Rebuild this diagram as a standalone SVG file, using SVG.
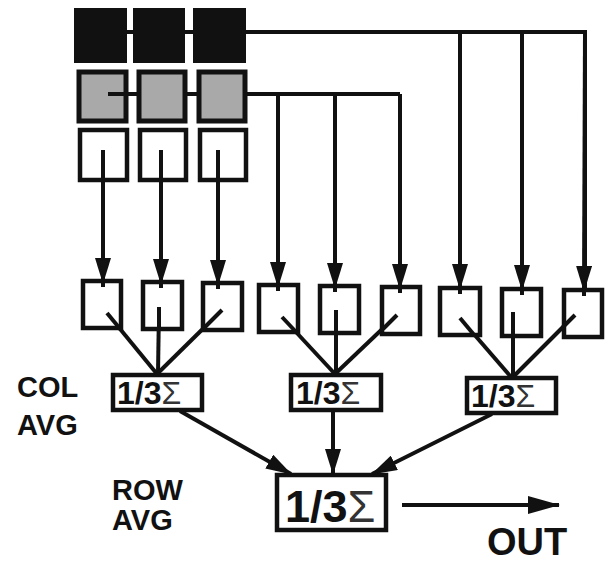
<svg xmlns="http://www.w3.org/2000/svg" width="608" height="564" viewBox="0 0 608 564">
<defs>
<marker id="ah" markerUnits="userSpaceOnUse" markerWidth="26" markerHeight="16" viewBox="0 0 26 16" refX="25" refY="8" orient="auto">
<path d="M0,0 L26,8 L0,16 z" fill="#111"/>
</marker>
<marker id="ahl" markerUnits="userSpaceOnUse" markerWidth="32" markerHeight="18" viewBox="0 0 32 18" refX="31" refY="9" orient="auto">
<path d="M0,0 L32,9 L0,18 z" fill="#111"/>
</marker>
</defs>
<style>
.blk{fill:#111;stroke:#111;stroke-width:2}
.gry{fill:#a9a9a9;stroke:#111;stroke-width:5}
.box{fill:#fff;stroke:#111;stroke-width:4.5}
.ln{fill:none;stroke:#111;stroke-width:4;stroke-linecap:butt;stroke-linejoin:miter}
.ar{fill:none;stroke:#111;stroke-width:4;marker-end:url(#ah)}
.arl{fill:none;stroke:#111;stroke-width:4;marker-end:url(#ahl)}
.lbl{font-family:"Liberation Sans",Arial,Helvetica,sans-serif;font-weight:bold;fill:#111}
.sig{font-family:"Liberation Sans",Arial,Helvetica,sans-serif;font-weight:normal;fill:#333}
</style>
<rect width="608" height="564" fill="#fff"/>

<g id="connectors">
<path class="ln" d="M126,32 H134 M184,32 H194 M245,32 H585 V288"/>
<line class="ar" x1="460" y1="32" x2="460" y2="289"/>
<line class="ar" x1="522" y1="32" x2="522" y2="290"/>
<line class="ar" x1="585" y1="32" x2="584" y2="291"/>
<path class="ln" d="M108,94 H400"/>
<line class="ar" x1="278" y1="94" x2="278" y2="287"/>
<line class="ar" x1="335" y1="94" x2="335" y2="288"/>
<line class="ar" x1="400" y1="94" x2="400" y2="289"/>
<line class="ar" x1="103" y1="150" x2="103" y2="283"/>
<line class="ar" x1="161" y1="150" x2="161" y2="284"/>
<line class="ar" x1="218" y1="150" x2="218" y2="285"/>
<line class="ln" x1="107" y1="313" x2="157" y2="374"/>
<line class="ln" x1="159" y1="307" x2="158" y2="374"/>
<line class="ln" x1="222" y1="310" x2="157" y2="374"/>
<line class="ln" x1="282" y1="317" x2="335" y2="374"/>
<line class="ln" x1="336" y1="310" x2="336" y2="374"/>
<line class="ln" x1="397" y1="315" x2="335" y2="374"/>
<line class="ln" x1="460" y1="318" x2="511" y2="377"/>
<line class="ln" x1="513" y1="312" x2="513" y2="377"/>
<line class="ln" x1="575" y1="315" x2="513" y2="377"/>
<line class="ar" x1="180" y1="411" x2="291" y2="474"/>
<line class="ar" x1="333" y1="411" x2="333" y2="474"/>
<line class="ar" x1="492" y1="414" x2="372" y2="474"/>
<line class="arl" x1="402" y1="505" x2="559" y2="505"/>
</g>

<g id="black-row">
<rect id="b1" class="blk" x="75" y="9" width="51" height="53"/>
<rect id="b2" class="blk" x="134" y="9" width="50" height="53"/>
<rect id="b3" class="blk" x="194" y="9" width="51" height="53"/>
</g>
<g id="gray-row">
<rect id="g1" class="gry" x="79" y="72" width="47" height="49"/>
<rect id="g2" class="gry" x="139" y="72" width="46" height="49"/>
<rect id="g3" class="gry" x="199" y="72" width="46" height="49"/>
<path class="ln" d="M108,94 H126 M126,94 H139 M185,94 H199"/>
</g>
<g id="white-row">
<rect id="w1" class="box" x="80" y="130" width="47" height="50"/>
<rect id="w2" class="box" x="140" y="130" width="46" height="50"/>
<rect id="w3" class="box" x="200" y="130" width="46" height="50"/>
</g>
<g id="inputs">
<rect id="i1" class="box" x="83" y="281" width="38" height="47"/>
<rect id="i2" class="box" x="143" y="282" width="39" height="47"/>
<rect id="i3" class="box" x="203" y="283" width="39" height="47"/>
<rect id="i4" class="box" x="259" y="285" width="39" height="47"/>
<rect id="i5" class="box" x="320" y="286" width="39" height="47"/>
<rect id="i6" class="box" x="382" y="287" width="38" height="47"/>
<rect id="i7" class="box" x="440" y="288" width="40" height="47"/>
<rect id="i8" class="box" x="502" y="289" width="39" height="47"/>
<rect id="i9" class="box" x="564" y="290" width="38" height="47"/>
</g>
<g id="fan-stubs">
<line class="ln" x1="107" y1="313" x2="121" y2="330"/>
<line class="ln" x1="159" y1="307" x2="159" y2="330"/>
<line class="ln" x1="222" y1="310" x2="204" y2="328"/>
<line class="ln" x1="282" y1="317" x2="297" y2="333"/>
<line class="ln" x1="336" y1="310" x2="336" y2="334"/>
<line class="ln" x1="397" y1="315" x2="383" y2="329"/>
<line class="ln" x1="460" y1="318" x2="475" y2="336"/>
<line class="ln" x1="513" y1="312" x2="513" y2="337"/>
<line class="ln" x1="575" y1="315" x2="563" y2="327"/>
<line class="ln" x1="103" y1="150" x2="103" y2="182"/>
<line class="ln" x1="161" y1="150" x2="161" y2="182"/>
<line class="ln" x1="218" y1="150" x2="218" y2="182"/>
<line class="ln" x1="103" y1="270" x2="103" y2="287"/>
<line class="ln" x1="161" y1="270" x2="161" y2="288"/>
<line class="ln" x1="218" y1="270" x2="218" y2="289"/>
<line class="ln" x1="278" y1="270" x2="278" y2="291"/>
<line class="ln" x1="335" y1="270" x2="335" y2="292"/>
<line class="ln" x1="400" y1="270" x2="400" y2="293"/>
<line class="ln" x1="460" y1="270" x2="460" y2="294"/>
<line class="ln" x1="522" y1="270" x2="522" y2="295"/>
<line class="ln" x1="584" y1="270" x2="584" y2="296"/>
</g>
<g id="col-avg-1">
<rect class="box" x="113" y="375" width="89" height="35"/>
<text class="lbl" x="117" y="404" font-size="32">1/3<tspan class="sig">Σ</tspan></text>
</g>
<g id="col-avg-2">
<rect class="box" x="291" y="375" width="90" height="35"/>
<text class="lbl" x="296" y="404" font-size="32">1/3<tspan class="sig">Σ</tspan></text>
</g>
<g id="col-avg-3">
<rect class="box" x="467" y="378" width="89" height="35"/>
<text class="lbl" x="471" y="407" font-size="32">1/3<tspan class="sig">Σ</tspan></text>
</g>
<g id="row-avg">
<rect class="box" x="277" y="475" width="109" height="55"/>
<text class="lbl" x="285" y="522" font-size="45">1/3<tspan class="sig">Σ</tspan></text>
</g>
<g id="labels">
<text class="lbl" x="17" y="397" font-size="29">COL</text>
<text class="lbl" x="17" y="435" font-size="29">AVG</text>
<text class="lbl" x="112" y="500" font-size="29">ROW</text>
<text class="lbl" x="112" y="530" font-size="29">AVG</text>
<text class="lbl" x="487" y="555" font-size="38">OUT</text>
</g>
</svg>
